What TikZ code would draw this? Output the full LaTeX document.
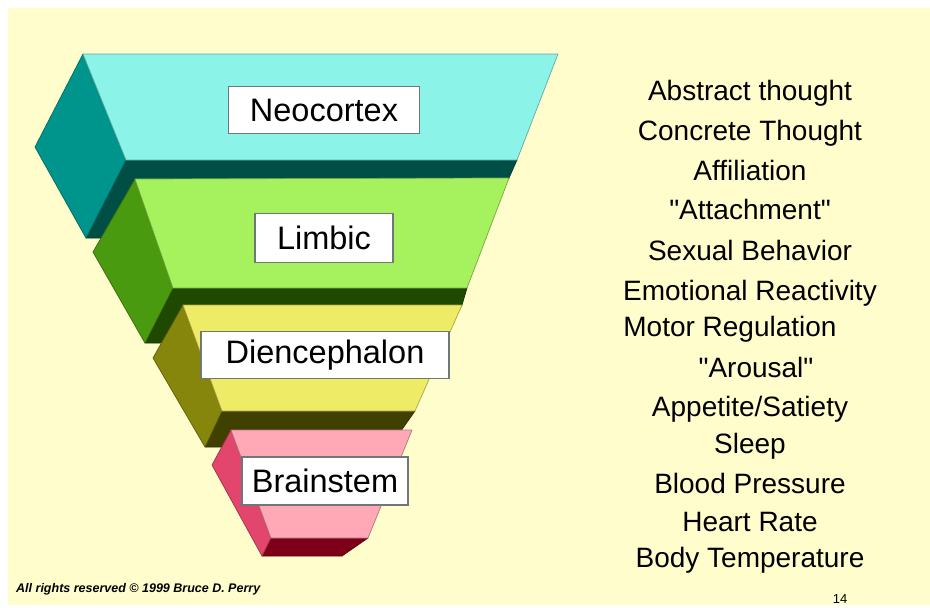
\documentclass[tikz,border=0pt]{standalone}
\usepackage{fontspec}
\setmainfont{Liberation Sans}
\definecolor{bgy}{HTML}{FFFDCC}
\definecolor{nf}{HTML}{8CF3E8}
\definecolor{ns}{HTML}{00958C}
\definecolor{nb}{HTML}{004F46}
\definecolor{lf}{HTML}{A6F25E}
\definecolor{ls}{HTML}{4A9A10}
\definecolor{lb}{HTML}{1F4800}
\definecolor{df}{HTML}{EEEC66}
\definecolor{ds}{HTML}{86860C}
\definecolor{db}{HTML}{404000}
\definecolor{bf}{HTML}{FFA8B6}
\definecolor{bs}{HTML}{E2466C}
\definecolor{bb}{HTML}{7E0018}
\definecolor{boxgray}{HTML}{6E7878}
\tikzset{
  face/.style={fill=#1, draw=#1!70!black, line width=0.7pt, line join=round},
  lbl/.style={draw=boxgray, fill=white, line width=1.2pt, inner sep=0pt,
    font=\fontsize{32.5}{36}\selectfont},
  item/.style={anchor=base, font=\fontsize{28}{32}\selectfont, inner sep=0pt},
}
\begin{document}
\begin{tikzpicture}[x=1pt,y=-1pt]
\useasboundingbox (0,0) rectangle (930,608);
\fill[white] (0,0) rectangle (930,608);
\fill[bgy] (8,8) rectangle (930,605);
% Neocortex
\path[face=nb] (126,160) -- (517,160) -- (509,178) -- (478,238) -- (86,238) -- cycle;
\path[face=ns] (83,54) -- (35,147) -- (86,238) -- (126,160) -- cycle;
\path[face=nf] (83,54) -- (558,54) -- (517,160) -- (126,160) -- cycle;
% Limbic
\path[face=lb] (173,288) -- (467,288) -- (462,305) -- (440,343) -- (145,343) -- cycle;
\path[face=ls] (135,179) -- (93,252) -- (145,343) -- (173,288) -- cycle;
\path[face=lf] (135,179) -- (509,178) -- (467,288) -- (173,288) -- cycle;
% Diencephalon
\path[face=db] (222,411) -- (415,411) -- (403,428) -- (390,447) -- (205,447) -- cycle;
\path[face=ds] (183,305) -- (153,358) -- (205,447) -- (222,411) -- cycle;
\path[face=df] (183,305) -- (462,305) -- (415,411) -- (222,411) -- cycle;
% Brainstem
\path[face=bb] (271,538) -- (368,538) -- (342,556) -- (262,556) -- cycle;
\path[face=bs] (231,430) -- (212,465) -- (262,556) -- (271,538) -- cycle;
\path[face=bf] (231,430) -- (412,430) -- (368,538) -- (271,538) -- cycle;
% labels
\node[lbl, minimum width=191, minimum height=47] (neo) at (324,110) {Neocortex};
\node[lbl, minimum width=138, minimum height=49] (lim) at (324,238) {Limbic};
\node[lbl, minimum width=248, minimum height=47] (die) at (325,355) {Diencephalon};
\node[lbl, minimum width=166, minimum height=48] (bra) at (325,481) {Brainstem};
% functions
\node[item] (f1) at (750,100) {Abstract thought};
\node[item] (f2) at (750,140) {Concrete Thought};
\node[item] (f3) at (750,180) {Affiliation};
\node[item] (f4) at (750,219) {\textquotedbl Attachment\textquotedbl};
\node[item] (f5) at (750,260) {Sexual Behavior};
\node[item] (f6) at (750,300) {Emotional Reactivity};
\node[item] (f7) at (730,336) {Motor Regulation};
\node[item] (f8) at (756,377) {\textquotedbl Arousal\textquotedbl};
\node[item] (f9) at (750,416) {Appetite/Satiety};
\node[item] (f10) at (750,453) {Sleep};
\node[item] (f11) at (750,493) {Blood Pressure};
\node[item] (f12) at (750,531) {Heart Rate};
\node[item] (f13) at (750,567) {Body Temperature};
% footer
\node[anchor=base west, inner sep=0pt, font=\fontsize{12.5}{14}\selectfont\bfseries\itshape] (copy) at (16,592) {All rights reserved © 1999 Bruce D. Perry};
\node[anchor=base, inner sep=0pt, font=\fontsize{13}{15}\selectfont] (pg) at (840,603) {14};
\end{tikzpicture}
\end{document}
